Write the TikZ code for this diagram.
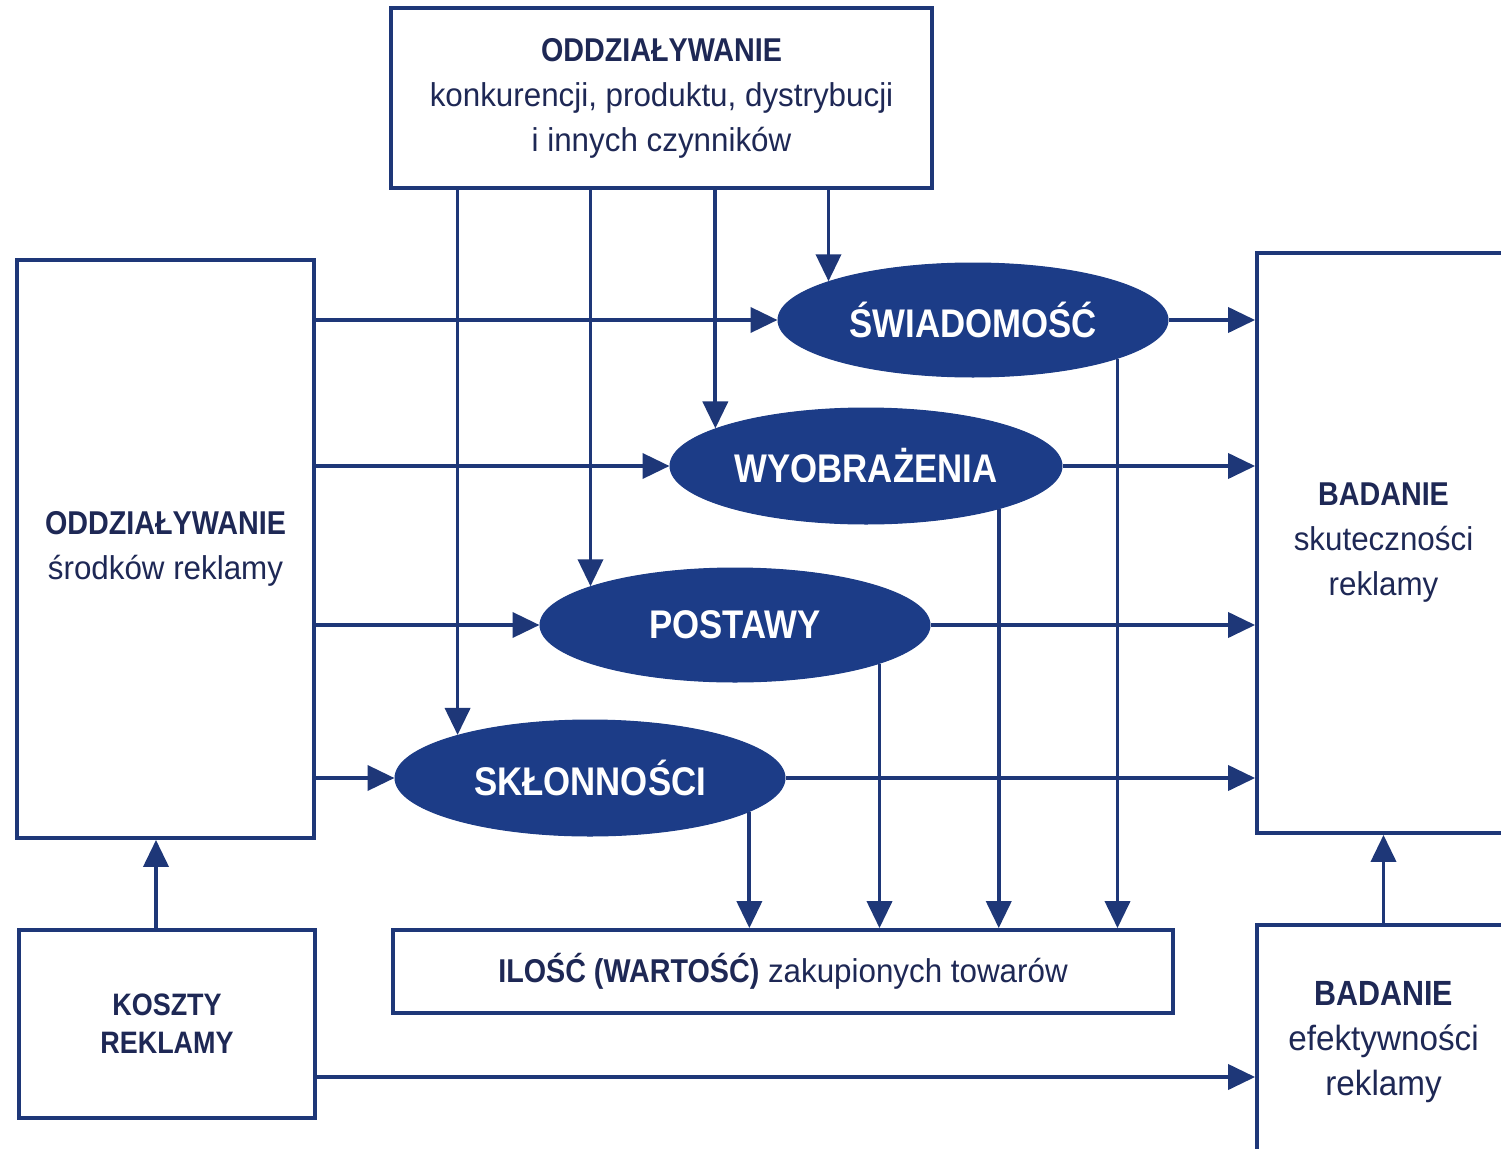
\documentclass[tikz,border=0pt]{standalone}
\usepackage{fontspec}
\setmainfont{Liberation Sans}[FakeStretch=0.95, BoldFeatures={FakeStretch=0.87}]
\usetikzlibrary{arrows.meta,shapes.geometric}
\definecolor{navyline}{RGB}{30,55,120}
\definecolor{navyfill}{RGB}{28,60,135}
\definecolor{navytext}{RGB}{30,40,85}
\tikzset{
  box/.style={draw=navyline, line width=3.8pt, rectangle, align=center, text=navytext, inner sep=0pt},
  oval/.style={ellipse, fill=navyfill, draw=navyfill, line width=1pt, inner sep=0pt, text=white,
     font=\fontsize{40}{44}\selectfont\bfseries},
  arr/.style={draw=navyline, line width=3.8pt, -{Triangle[length=27pt,width=25pt]}},
  txt/.style={font=\fontsize{33}{45}\selectfont}
}
\begin{document}
\begin{tikzpicture}[x=1pt,y=-1pt]
\fill[white] (0,0) rectangle (1501,1148);
\useasboundingbox (0,0) rectangle (1501,1148);

\node[box,txt,minimum width=541pt,minimum height=180pt] (top) at (661.5,98)
  {\textbf{ODDZIAŁYWANIE}\\konkurencji, produktu, dystrybucji\\i innych czynników};
\node[box,txt,minimum width=297pt,minimum height=578pt] (left) at (165.5,549)
  {\textbf{ODDZIAŁYWANIE}\\środków reklamy};
\node[box,txt,minimum width=253pt,minimum height=580pt] (right) at (1383.5,543)
  {\textbf{BADANIE}\\skuteczności\\reklamy};
\node[box,font=\fontsize{31}{38}\selectfont,minimum width=296pt,minimum height=188pt] (koszty) at (167,1024)
  {\textbf{KOSZTY}\\\textbf{REKLAMY}};
\node[box,font=\fontsize{35}{45}\selectfont,minimum width=253pt,minimum height=235pt] (efekt) at (1383.5,1042.5)
  {\textbf{BADANIE}\\efektywności\\reklamy};
\node[box,txt,minimum width=780pt,minimum height=83pt] (ilosc) at (783,971.5)
  {\textbf{ILOŚĆ (WARTOŚĆ)} zakupionych towarów};

\node[oval,minimum width=390pt,minimum height=114pt] (sw) at (973,320) {ŚWIADOMOŚĆ};
\node[oval,minimum width=392pt,minimum height=116pt] (wy) at (866,466) {WYOBRAŻENIA};
\node[oval,minimum width=390pt,minimum height=114pt] (po) at (735,625) {POSTAWY};
\node[oval,minimum width=390pt,minimum height=116pt] (sk) at (590,778) {SKŁONNOŚCI};

% left box -> ellipses
\draw[arr] (left.east |- sw.west) -- (sw.west);
\draw[arr] (left.east |- wy.west) -- (wy.west);
\draw[arr] (left.east |- po.west) -- (po.west);
\draw[arr] (left.east |- sk.west) -- (sk.west);

% ellipses -> right box
\draw[arr] (sw.east) -- (sw.east -| right.west);
\draw[arr] (wy.east) -- (wy.east -| right.west);
\draw[arr] (po.east) -- (po.east -| right.west);
\draw[arr] (sk.east) -- (sk.east -| right.west);

% top box -> ellipses
\draw[arr] (sk.162.2 |- top.south) -- (sk.162.2);
\draw[arr] (po.165.2 |- top.south) -- (po.165.2);
\draw[arr] (wy.166.4 |- top.south) -- (wy.166.4);
\draw[arr] (sw.165.2 |- top.south) -- (sw.165.2);

% ellipses -> ilosc
\draw[arr] (sk.-12.5) -- (sk.-12.5 |- ilosc.north);
\draw[arr] (po.-15.5) -- (po.-15.5 |- ilosc.north);
\draw[arr] (wy.-18) -- (wy.-18 |- ilosc.north);
\draw[arr] (sw.-15.8) -- (sw.-15.8 |- ilosc.north);

% koszty
\draw[arr] ([xshift=-11pt]koszty.north) -- ([xshift=-11pt]koszty.north |- left.south);
\draw[arr] ([yshift=-53pt]koszty.east) -- ([yshift=-53pt]koszty.east -| efekt.west);
\draw[arr] (efekt.north) -- (right.south);
\end{tikzpicture}
\end{document}
